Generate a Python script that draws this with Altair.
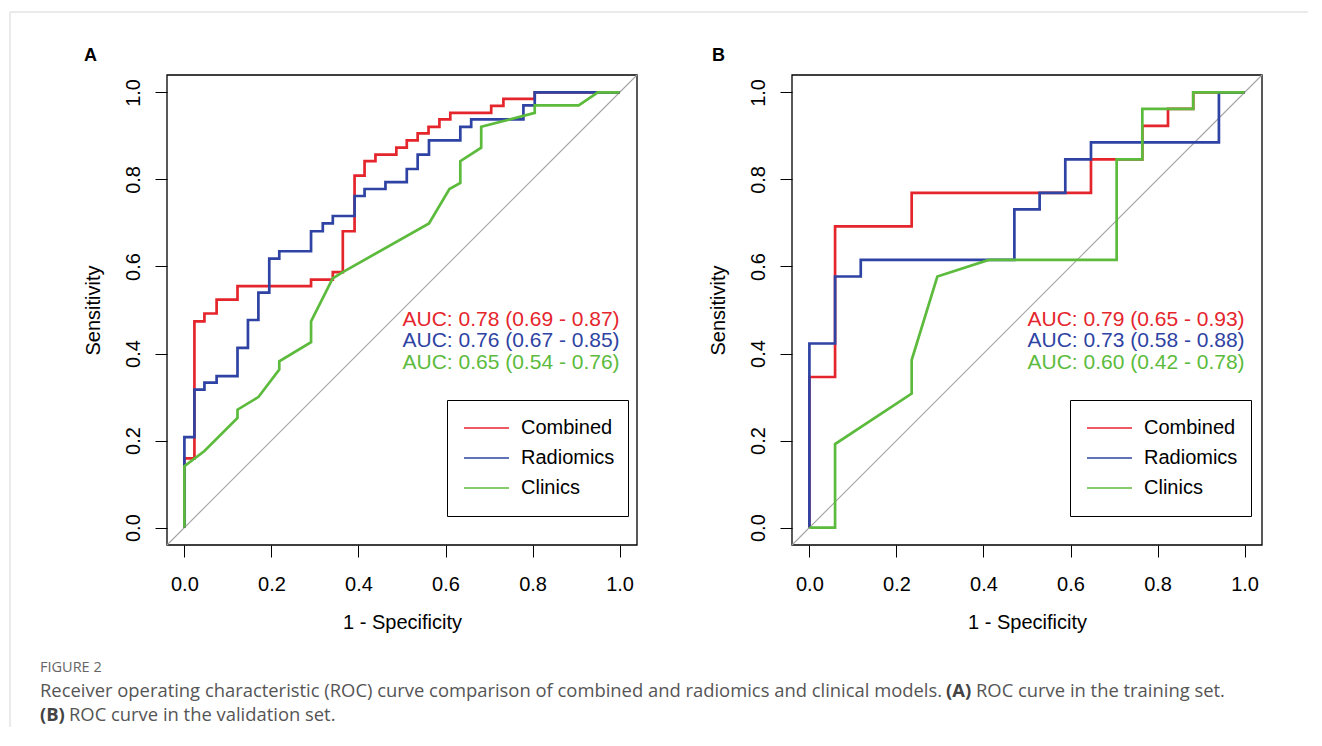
import altair as alt
import pandas as pd

# ---------------- data ----------------
models = ["Combined", "Radiomics", "Clinics"]
colors = ["#E5252C", "#2E43A3", "#5CBB3C"]

# Panel A: training set  (x = 1 - specificity, y = sensitivity)
A_combined_fpr = [0, 0, 0.023, 0.023, 0.046, 0.046, 0.074, 0.074, 0.122, 0.122, 0.291, 0.291, 0.341, 0.341,
                  0.364, 0.364, 0.391, 0.391, 0.414, 0.414, 0.439, 0.439, 0.487, 0.487, 0.511, 0.511, 0.536,
                  0.536, 0.561, 0.561, 0.586, 0.586, 0.611, 0.611, 0.705, 0.705, 0.733, 0.733, 0.805, 0.805, 1.0]
A_combined_tpr = [0, 0.159, 0.159, 0.474, 0.474, 0.492, 0.492, 0.524, 0.524, 0.555, 0.555, 0.570, 0.570, 0.587,
                  0.587, 0.681, 0.681, 0.809, 0.809, 0.842, 0.842, 0.857, 0.857, 0.873, 0.873, 0.890, 0.890,
                  0.906, 0.906, 0.921, 0.921, 0.938, 0.938, 0.953, 0.953, 0.969, 0.969, 0.985, 0.985, 1.0, 1.0]

A_radiomics_fpr = [0, 0, 0.023, 0.023, 0.046, 0.046, 0.074, 0.074, 0.122, 0.122, 0.146, 0.146, 0.170, 0.170,
                   0.195, 0.195, 0.218, 0.218, 0.291, 0.291, 0.318, 0.318, 0.341, 0.341, 0.391, 0.391, 0.414,
                   0.414, 0.462, 0.462, 0.511, 0.511, 0.536, 0.536, 0.562, 0.562, 0.634, 0.634, 0.659, 0.659,
                   0.779, 0.779, 0.805, 0.805, 1.0]
A_radiomics_tpr = [0, 0.208, 0.208, 0.317, 0.317, 0.333, 0.333, 0.348, 0.348, 0.413, 0.413, 0.477, 0.477, 0.540,
                   0.540, 0.618, 0.618, 0.635, 0.635, 0.681, 0.681, 0.699, 0.699, 0.716, 0.716, 0.762, 0.762,
                   0.778, 0.778, 0.794, 0.794, 0.824, 0.824, 0.857, 0.857, 0.890, 0.890, 0.921, 0.921, 0.938,
                   0.938, 0.970, 0.970, 1.0, 1.0]

A_clinics_fpr = [0, 0, 0.046, 0.122, 0.122, 0.170, 0.218, 0.218, 0.291, 0.291, 0.341, 0.364, 0.562, 0.609,
                 0.634, 0.634, 0.682, 0.682, 0.805, 0.805, 0.906, 0.950, 1.0]
A_clinics_tpr = [0, 0.141, 0.176, 0.252, 0.271, 0.300, 0.363, 0.382, 0.426, 0.474, 0.573, 0.587, 0.699, 0.778,
                 0.792, 0.842, 0.873, 0.921, 0.953, 0.970, 0.970, 1.0, 1.0]

# Panel B: validation set
B_combined_fpr = [0, 0, 0.059, 0.059, 0.235, 0.235, 0.647, 0.647, 0.765, 0.765, 0.824, 0.824, 0.882, 0.882, 1.0]
B_combined_tpr = [0, 0.346, 0.346, 0.692, 0.692, 0.769, 0.769, 0.846, 0.846, 0.923, 0.923, 0.962, 0.962, 1.0, 1.0]

B_radiomics_fpr = [0, 0, 0.059, 0.059, 0.118, 0.118, 0.471, 0.471, 0.529, 0.529, 0.588, 0.588, 0.647, 0.647,
                   0.941, 0.941, 1.0]
B_radiomics_tpr = [0, 0.423, 0.423, 0.577, 0.577, 0.615, 0.615, 0.731, 0.731, 0.769, 0.769, 0.846, 0.846, 0.885,
                   0.885, 1.0, 1.0]

B_clinics_fpr = [0, 0.059, 0.059, 0.235, 0.235, 0.294, 0.412, 0.706, 0.706, 0.765, 0.765, 0.882, 0.882, 1.0]
B_clinics_tpr = [0, 0, 0.192, 0.308, 0.385, 0.577, 0.615, 0.615, 0.846, 0.846, 0.962, 0.962, 1.0, 1.0]

A_auc = ["AUC: 0.78 (0.69 - 0.87)", "AUC: 0.76 (0.67 - 0.85)", "AUC: 0.65 (0.54 - 0.76)"]
B_auc = ["AUC: 0.79 (0.65 - 0.93)", "AUC: 0.73 (0.58 - 0.88)", "AUC: 0.60 (0.42 - 0.78)"]
auc_x = [1.0, 1.0, 1.0]
auc_y = [0.477, 0.429, 0.378]

ticks = [0.0, 0.2, 0.4, 0.6, 0.8, 1.0]
limits = [-0.04, 1.04]
panel_letters = ["A", "B"]

caption_head = "FIGURE 2"
caption_1a = "Receiver operating characteristic (ROC) curve comparison of combined and radiomics and clinical models."
caption_1b = "(A)"
caption_1c = "ROC curve in the training set."
caption_2a = "(B)"
caption_2b = "ROC curve in the validation set."

# ---------------- layout ----------------
PW = 470          # each panel's plot box (square)
GAP = 155         # distance between panel A box and panel B box
FONT = "Liberation Sans"
CAP_FONT = "Open Sans"

cS = alt.Scale(domain=models, range=colors)


def xscale(left):
    return alt.Scale(domain=limits, range=[left, left + PW], nice=False, zero=False)


yS = alt.Scale(domain=limits, range=[PW, 0], nice=False, zero=False)


def x_axis():
    return alt.Axis(values=ticks, format=".1f", title="1 - Specificity", orient="bottom",
                    domain=False, grid=False, tickSize=12, tickColor="black", tickWidth=1,
                    labelFontSize=20, labelFont=FONT, labelColor="black", labelPadding=17,
                    labelFlush=False, labelOverlap=False,
                    titleFontSize=20, titleFont=FONT, titleColor="black", titleFontWeight="normal",
                    titleY=77, titleBaseline="middle")


def y_axis(offset):
    return alt.Axis(values=ticks, format=".1f", title="Sensitivity", orient="left", offset=offset,
                    domain=False, grid=False, tickSize=12, tickColor="black", tickWidth=1,
                    labelFontSize=20, labelFont=FONT, labelColor="black", labelPadding=12,
                    labelAngle=270, labelAlign="center", labelBaseline="bottom",
                    labelFlush=False, labelOverlap=False,
                    titleFontSize=20, titleFont=FONT, titleColor="black", titleFontWeight="normal",
                    titleAngle=270, titleX=-74, titleY=PW / 2, titleAlign="center", titleBaseline="middle")


def legend(lx, ly):
    return alt.Legend(title=None, orient="none", legendX=lx, legendY=ly, symbolType="stroke",
                      symbolSize=2025, symbolStrokeWidth=1.5, labelFontSize=20, labelFont=FONT,
                      labelColor="black", labelOffset=11, rowPadding=0, clipHeight=30, padding=13,
                      symbolOffset=3, strokeColor="black", fillColor="white", cornerRadius=0)


def curve_df(fpr, tpr, name):
    return pd.DataFrame({"fpr": fpr, "tpr": tpr, "i": list(range(len(fpr))), "model": name})


def panel(left, curves, auc_labels, letter, letter_dx, lg):
    xs = xscale(left)
    layers = []
    # frame (plot box)
    layers.append(alt.Chart(pd.DataFrame({"x": [limits[0]], "x2": [limits[1]],
                                          "y": [limits[0]], "y2": [limits[1]]})).mark_rect(
        fillOpacity=0, stroke="black", strokeWidth=1.3).encode(
        x=alt.X("x:Q", scale=xs, axis=None), x2="x2:Q",
        y=alt.Y("y:Q", scale=yS, axis=None), y2="y2:Q"))
    # chance diagonal
    layers.append(alt.Chart(pd.DataFrame({"d": limits})).mark_line(
        color="#A3A3A3", strokeWidth=1.1).encode(
        x=alt.X("d:Q", scale=xs, axis=None), y=alt.Y("d:Q", scale=yS, axis=None)))
    # ROC curves (red, blue, green drawn in that order)
    for k, ((fpr, tpr), name) in enumerate(zip(curves, models)):
        first = k == 0
        layers.append(alt.Chart(curve_df(fpr, tpr, name)).mark_line(strokeWidth=2.7).encode(
            x=alt.X("fpr:Q", scale=xs, axis=x_axis() if first else None),
            y=alt.Y("tpr:Q", scale=yS, axis=y_axis(-left) if first else None),
            color=alt.Color("model:N", scale=cS, legend=lg if first else None),
            order="i:Q"))
    # AUC annotations
    layers.append(alt.Chart(pd.DataFrame({"x": auc_x, "y": auc_y, "label": auc_labels, "col": colors})).mark_text(
        align="right", baseline="middle", fontSize=21, font=FONT).encode(
        x=alt.X("x:Q", scale=xs, axis=None), y=alt.Y("y:Q", scale=yS, axis=None),
        text="label:N", color=alt.Color("col:N", scale=None)))
    # panel letter
    layers.append(alt.Chart(pd.DataFrame({"t": [letter]})).mark_text(
        align="left", baseline="alphabetic", fontSize=18, fontWeight="bold", font=FONT, color="black").encode(
        x=alt.value(left + letter_dx), y=alt.value(-14), text="t:N"))
    return layers


layersA = panel(0, [(A_combined_fpr, A_combined_tpr), (A_radiomics_fpr, A_radiomics_tpr),
                    (A_clinics_fpr, A_clinics_tpr)], A_auc, panel_letters[0], -83, legend(280, 325))
layersB = panel(PW + GAP, [(B_combined_fpr, B_combined_tpr), (B_radiomics_fpr, B_radiomics_tpr),
                           (B_clinics_fpr, B_clinics_tpr)], B_auc, panel_letters[1], -80, legend(903, 325))

# caption and page border
cap_df = pd.DataFrame({"head": [caption_head], "a": [caption_1a], "b": [caption_1b], "c": [caption_1c],
                       "d": [caption_2a], "e": [caption_2b]})
cap_base = alt.Chart(cap_df)


def cap(field, x, y, size=18.4, weight="normal", color="#555555"):
    return cap_base.mark_text(align="left", baseline="alphabetic", font=CAP_FONT, fontSize=size,
                              fontWeight=weight, color=color).encode(
        x=alt.value(x), y=alt.value(y), text=f"{field}:N")


caption = [
    cap("head", -127, 597, size=14.5, color="#666666"),
    cap("a", -127, 622),
    cap("b", 779, 622, weight="bold", color="#444444"),
    cap("c", 809, 622),
    cap("d", -127, 646, weight="bold", color="#444444"),
    cap("e", -98, 646),
]

border = alt.Chart(pd.DataFrame({"k": [0]})).mark_rule(color="#D6D6D6", strokeWidth=1).encode(
    x=alt.value(-157), x2=alt.value(1160), y=alt.value(-63))
border2 = alt.Chart(pd.DataFrame({"k": [0]})).mark_rule(color="#D6D6D6", strokeWidth=1).encode(
    x=alt.value(-157), y=alt.value(-63), y2=alt.value(700))

chart = alt.layer(*layersA, *layersB, *caption, border, border2).resolve_scale(
    x="independent", y="independent", color="independent"
).resolve_axis(x="independent", y="independent").resolve_legend(color="independent").properties(
    width=2 * PW + GAP, height=PW,
    autosize=alt.AutoSizeParams(type="none"),
    padding={"left": 159, "top": 67, "right": 46, "bottom": 182},
    background="white",
).configure_view(stroke=None)

chart.save("out.html", embed_options={"renderer": "svg", "actions": False})
